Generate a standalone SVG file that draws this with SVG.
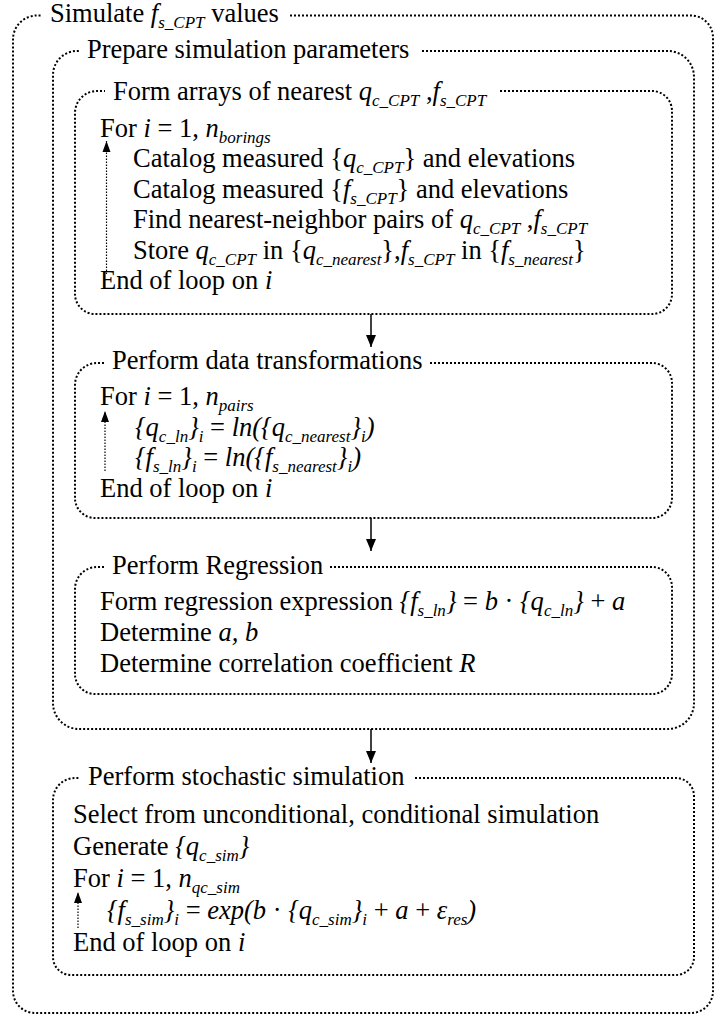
<svg xmlns="http://www.w3.org/2000/svg" width="716" height="1017" viewBox="0 0 716 1017">
<style>
.box{fill:none;stroke:#000;stroke-width:2;stroke-dasharray:2 2}
.t{font-family:"Liberation Serif","Times New Roman",serif;font-size:26.5px;fill:#000}
.i{font-style:italic}
.s{font-size:17px;font-style:italic}
.u{font-style:normal}
.conn{stroke:#000;stroke-width:1.5;fill:none}
.loop{stroke:#000;stroke-width:1.2;stroke-dasharray:1.5 1.5;fill:none}
</style>
<defs>
<marker id="ah" markerUnits="userSpaceOnUse" markerWidth="12" markerHeight="12" refX="12" refY="6" orient="auto"><path d="M0,1 L12,6 L0,11 z" fill="#000"/></marker>
<marker id="lh" markerUnits="userSpaceOnUse" markerWidth="11" markerHeight="10" refX="11" refY="5" orient="auto"><path d="M0,1 L11,5 L0,9 z" fill="#000"/></marker>
</defs>
<rect width="716" height="1017" fill="#fff"/>

<g id="outer">
<path class="box" d="M290,15.5 H691 A22,22 0 0 1 713,37.5 V991 A22,22 0 0 1 691,1013 H35 A22,22 0 0 1 13,991 V40 A24,24 0 0 1 37,15.5 H42"/>
<text class="t" x="50" y="22">Simulate <tspan class="i">f</tspan><tspan class="s" dy="6">s_CPT</tspan><tspan dy="-6"> values</tspan></text>
</g>

<g id="prepare">
<path class="box" d="M422,51 H668 A26,26 0 0 1 694,77 V703 A26,26 0 0 1 668,729 H79 A26,26 0 0 1 53,703 V75 A24,24 0 0 1 77,51 H80"/>
<text class="t" x="87" y="58">Prepare simulation parameters</text>
</g>

<g id="form-arrays">
<path class="box" d="M500,91 H652 A20,20 0 0 1 672,111 V294 A20,20 0 0 1 652,314 H95 A20,20 0 0 1 75,294 V113 A22,22 0 0 1 97,91 H105"/>
<text class="t" x="113" y="100">Form arrays of nearest <tspan class="i">q</tspan><tspan class="s" dy="6">c_CPT</tspan><tspan dy="-6"> ,</tspan><tspan class="i">f</tspan><tspan class="s" dy="6">s_CPT</tspan></text>
<text class="t" x="100" y="137">For <tspan class="i">i</tspan> = 1, <tspan class="i">n</tspan><tspan class="s" dy="6">borings</tspan></text>
<text class="t" x="133" y="167">Catalog measured {<tspan class="i">q</tspan><tspan class="s" dy="6">c_CPT</tspan><tspan dy="-6">} and elevations</tspan></text>
<text class="t" x="133" y="198">Catalog measured {<tspan class="i">f</tspan><tspan class="s" dy="6">s_CPT</tspan><tspan dy="-6">} and elevations</tspan></text>
<text class="t" x="133" y="228">Find nearest-neighbor pairs of <tspan class="i">q</tspan><tspan class="s" dy="6">c_CPT</tspan><tspan dy="-6"> ,</tspan><tspan class="i">f</tspan><tspan class="s" dy="6">s_CPT</tspan></text>
<text class="t" x="133" y="259">Store <tspan class="i">q</tspan><tspan class="s" dy="6">c_CPT</tspan><tspan dy="-6"> in {</tspan><tspan class="i">q</tspan><tspan class="s" dy="6">c_nearest</tspan><tspan dy="-6">},</tspan><tspan class="i">f</tspan><tspan class="s" dy="6">s_CPT</tspan><tspan dy="-6"> in {</tspan><tspan class="i">f</tspan><tspan class="s" dy="6">s_nearest</tspan><tspan dy="-6">}</tspan></text>
<text class="t" x="100" y="289">End of loop on <tspan class="i">i</tspan></text>
</g>

<g id="data-transformations">
<path class="box" d="M430,363 H652 A20,20 0 0 1 672,383 V498 A20,20 0 0 1 652,518 H95 A20,20 0 0 1 75,498 V385 A22,22 0 0 1 97,363 H104"/>
<text class="t" x="112" y="369">Perform data transformations</text>
<text class="t" x="100" y="405">For <tspan class="i">i</tspan> = 1, <tspan class="i">n</tspan><tspan class="s" dy="6">pairs</tspan></text>
<text class="t i" x="135" y="436">{q<tspan class="s" dy="6">c_ln</tspan><tspan dy="-6">}</tspan><tspan class="s" dy="6">i</tspan><tspan class="u" dy="-6"> = </tspan>ln({q<tspan class="s" dy="6">c_nearest</tspan><tspan dy="-6">}</tspan><tspan class="s" dy="6">i</tspan><tspan dy="-6">)</tspan></text>
<text class="t i" x="135" y="466">{f<tspan class="s" dy="6">s_ln</tspan><tspan dy="-6">}</tspan><tspan class="s" dy="6">i</tspan><tspan class="u" dy="-6"> = </tspan>ln({f<tspan class="s" dy="6">s_nearest</tspan><tspan dy="-6">}</tspan><tspan class="s" dy="6">i</tspan><tspan dy="-6">)</tspan></text>
<text class="t" x="100" y="497">End of loop on <tspan class="i">i</tspan></text>
</g>

<g id="regression">
<path class="box" d="M330,567 H652 A20,20 0 0 1 672,587 V674 A20,20 0 0 1 652,694 H95 A20,20 0 0 1 75,674 V589 A22,22 0 0 1 97,567 H104"/>
<text class="t" x="112" y="574">Perform Regression</text>
<text class="t" x="100" y="610">Form regression expression <tspan class="i">{f</tspan><tspan class="s" dy="6">s_ln</tspan><tspan class="i" dy="-6">}</tspan> = <tspan class="i">b</tspan> · <tspan class="i">{q</tspan><tspan class="s" dy="6">c_ln</tspan><tspan class="i" dy="-6">}</tspan> + <tspan class="i">a</tspan></text>
<text class="t" x="100" y="641">Determine <tspan class="i">a, b</tspan></text>
<text class="t" x="100" y="672">Determine correlation coefficient <tspan class="i">R</tspan></text>
</g>

<g id="stochastic">
<path class="box" d="M415,778 H676 A18,18 0 0 1 694,796 V957 A18,18 0 0 1 676,975 H71 A18,18 0 0 1 53,957 V800 A22,22 0 0 1 75,778 H80"/>
<text class="t" x="88" y="785">Perform stochastic simulation</text>
<text class="t" x="73" y="823">Select from unconditional, conditional simulation</text>
<text class="t" x="73" y="855">Generate <tspan class="i">{q</tspan><tspan class="s" dy="6">c_sim</tspan><tspan class="i" dy="-6">}</tspan></text>
<text class="t" x="73" y="887">For <tspan class="i">i</tspan> = 1, <tspan class="i">n</tspan><tspan class="s" dy="6">qc_sim</tspan></text>
<text class="t i" x="107" y="919">{f<tspan class="s" dy="6">s_sim</tspan><tspan dy="-6">}</tspan><tspan class="s" dy="6">i</tspan><tspan class="u" dy="-6"> = </tspan>exp(b<tspan class="u"> · </tspan>{q<tspan class="s" dy="6">c_sim</tspan><tspan dy="-6">}</tspan><tspan class="s" dy="6">i</tspan><tspan class="u" dy="-6"> + </tspan>a<tspan class="u"> + </tspan>ε<tspan class="s" dy="6">res</tspan><tspan dy="-6">)</tspan></text>
<text class="t" x="73" y="951">End of loop on <tspan class="i">i</tspan></text>
</g>

<g id="connectors">
<line class="conn" x1="371" y1="314" x2="371" y2="347" marker-end="url(#ah)"/>
<line class="conn" x1="371" y1="518" x2="371" y2="551" marker-end="url(#ah)"/>
<line class="conn" x1="371" y1="729" x2="371" y2="763" marker-end="url(#ah)"/>
<line class="loop" x1="106.5" y1="274" x2="106.5" y2="141" marker-end="url(#lh)"/>
<line class="loop" x1="105" y1="471" x2="105" y2="411" marker-end="url(#lh)"/>
<line class="loop" x1="78" y1="928" x2="78" y2="892" marker-end="url(#lh)"/>
</g>
</svg>
